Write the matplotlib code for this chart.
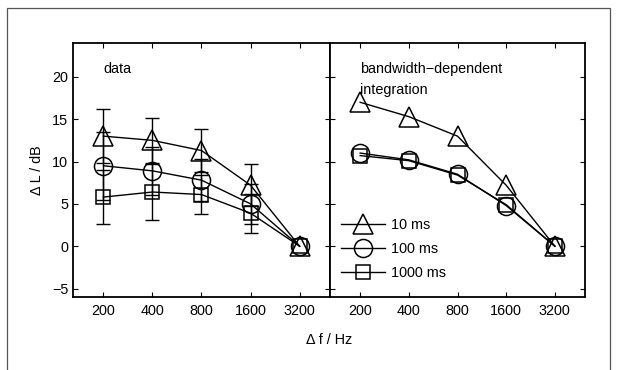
import matplotlib
matplotlib.use("Agg")
import matplotlib.pyplot as plt
from matplotlib.patches import Rectangle
from matplotlib.ticker import NullLocator, FixedLocator, FixedFormatter

plt.rcParams['font.family'] = ['Liberation Sans', 'DejaVu Sans']

freqs = [200, 400, 800, 1600, 3200]
tick_labels = ['200', '400', '800', '1600', '3200']

# measured data (left panel)
data_10 = [13.0, 12.5, 11.3, 7.2, 0.0]
data_100 = [9.5, 8.9, 7.8, 5.0, 0.0]
data_1000 = [5.8, 6.4, 6.1, 3.9, 0.0]
err_10 = [3.2, 2.7, 2.5, 2.5, 0.0]
err_100 = [4.0, 2.8, 2.5, 2.4, 0.0]
err_1000 = [3.2, 3.3, 2.3, 2.3, 0.0]

# model (right panel)
model_10 = [17.0, 15.3, 13.0, 7.2, 0.0]
model_100 = [11.0, 10.2, 8.5, 4.8, 0.0]
model_1000 = [10.7, 10.1, 8.4, 4.9, 0.0]

series_labels = ['10 ms', '100 ms', '1000 ms']
markers = ['^', 'o', 's']
msizes = [14.5, 13, 10.5]

W, H = 617, 370
fs = 10.4
fig = plt.figure(figsize=(W / 100, H / 100), dpi=100)

# outer frame
fig.add_artist(Rectangle((7 / W, -0.05), 603 / W, 1 - 8 / H + 0.05,
                         transform=fig.transFigure, fill=False,
                         edgecolor='#555555', lw=0.9))

ax1 = fig.add_axes([73 / W, 73 / H, 257 / W, 254 / H])
ax2 = fig.add_axes([330 / W, 73 / H, 255 / W, 254 / H])

def style(ax, ylabels=True):
    ax.set_xscale('log', base=2)
    ax.set_xlim(200 * 2 ** -0.62, 3200 * 2 ** 0.62)
    ax.set_ylim(-6, 24)
    ax.xaxis.set_major_locator(FixedLocator(freqs))
    ax.xaxis.set_major_formatter(FixedFormatter(tick_labels))
    ax.xaxis.set_minor_locator(NullLocator())
    ax.set_yticks([-5, 0, 5, 10, 15, 20])
    ax.tick_params(direction='in', length=3.5, width=0.8, top=True, right=True,
                   labelsize=fs)
    ax.tick_params(axis='x', pad=5)
    ax.tick_params(axis='y', pad=3.5)
    if not ylabels:
        ax.tick_params(labelleft=False)
    for s in ax.spines.values():
        s.set_linewidth(1.3)

style(ax1)
style(ax2, ylabels=False)

for vals, errs, m, ms in zip([data_10, data_100, data_1000],
                             [err_10, err_100, err_1000], markers, msizes):
    ax1.errorbar(freqs[:4], vals[:4], yerr=errs[:4], fmt='none', ecolor='black',
                 elinewidth=1.0, capsize=4.7, capthick=1.0)
    ax1.plot(freqs, vals, color='black', lw=1.0, marker=m, ms=ms,
             mfc='none', mec='black', mew=1.1)

for vals, m, ms, lab in zip([model_10, model_100, model_1000], markers, msizes,
                            series_labels):
    ax2.plot(freqs, vals, color='black', lw=1.0, marker=m, ms=ms,
             mfc='none', mec='black', mew=1.1, label=lab)

ax1.text(200, 20.9, 'data', fontsize=fs, va='center', ha='left')
ax2.text(200, 20.9, 'bandwidth\u2212dependent', fontsize=fs, va='center', ha='left')
ax2.text(200, 18.4, 'integration', fontsize=fs, va='center', ha='left')

leg = ax2.legend(loc='upper left', bbox_to_anchor=(0.022, 0.335), frameon=False,
                 fontsize=fs, handlelength=3.0, handletextpad=0.45,
                 labelspacing=0.72, borderaxespad=0)

fig.text(329 / W, 1 - 340 / H, '\u0394 f / Hz', ha='center', va='center', fontsize=fs)
fig.text(37 / W, 1 - 170 / H, '\u0394 L / dB', ha='center', va='center',
         rotation=90, fontsize=fs)

fig.savefig('out.png', dpi=100)
